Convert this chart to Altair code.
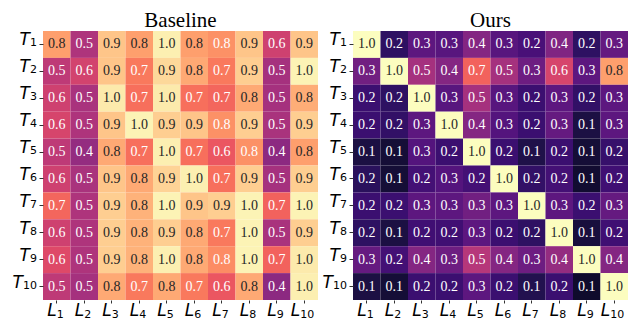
import altair as alt
import pandas as pd

rows = ["T1", "T2", "T3", "T4", "T5", "T6", "T7", "T8", "T9", "T10"]
cols = ["L1", "L2", "L3", "L4", "L5", "L6", "L7", "L8", "L9", "L10"]

baseline = [
    [0.80, 0.48, 0.88, 0.80, 0.97, 0.80, 0.77, 0.88, 0.56, 0.88],
    [0.52, 0.57, 0.88, 0.72, 0.92, 0.82, 0.72, 0.90, 0.46, 0.98],
    [0.56, 0.47, 0.96, 0.70, 0.96, 0.70, 0.68, 0.82, 0.46, 0.83],
    [0.58, 0.48, 0.88, 0.98, 0.90, 0.88, 0.77, 0.90, 0.47, 0.90],
    [0.52, 0.42, 0.82, 0.70, 0.97, 0.70, 0.64, 0.77, 0.40, 0.80],
    [0.56, 0.47, 0.88, 0.82, 0.91, 0.97, 0.70, 0.90, 0.46, 0.90],
    [0.68, 0.48, 0.90, 0.84, 0.98, 0.88, 0.90, 0.98, 0.67, 0.98],
    [0.56, 0.48, 0.90, 0.84, 0.90, 0.82, 0.72, 0.98, 0.47, 0.90],
    [0.60, 0.48, 0.90, 0.84, 0.97, 0.82, 0.76, 0.98, 0.67, 0.96],
    [0.52, 0.46, 0.82, 0.72, 0.82, 0.72, 0.64, 0.82, 0.40, 0.97],
]

ours = [
    [1.00, 0.17, 0.28, 0.27, 0.38, 0.27, 0.23, 0.37, 0.17, 0.30],
    [0.33, 1.00, 0.46, 0.38, 0.67, 0.46, 0.32, 0.58, 0.28, 0.80],
    [0.20, 0.17, 1.00, 0.27, 0.46, 0.27, 0.20, 0.28, 0.18, 0.28],
    [0.20, 0.18, 0.28, 1.00, 0.38, 0.26, 0.20, 0.30, 0.12, 0.28],
    [0.12, 0.10, 0.26, 0.20, 1.00, 0.20, 0.13, 0.20, 0.10, 0.19],
    [0.16, 0.10, 0.22, 0.26, 0.22, 1.00, 0.18, 0.22, 0.09, 0.21],
    [0.20, 0.20, 0.28, 0.28, 0.33, 0.28, 1.00, 0.28, 0.20, 0.30],
    [0.17, 0.12, 0.21, 0.21, 0.28, 0.20, 0.17, 1.00, 0.11, 0.21],
    [0.30, 0.22, 0.38, 0.32, 0.50, 0.38, 0.32, 0.42, 1.00, 0.38],
    [0.12, 0.10, 0.20, 0.20, 0.28, 0.20, 0.14, 0.20, 0.08, 1.00],
]

W = 275
H = 269
LAB_FONT = "DejaVu Sans"


def to_df(mat):
    recs = []
    for i, r in enumerate(rows):
        for j, c in enumerate(cols):
            recs.append({"row": r, "col": c, "value": mat[i][j]})
    return pd.DataFrame(recs)


ylab = pd.DataFrame({"row": rows, "letter": [r[0] for r in rows],
                     "sub": [r[1:] for r in rows], "nd": [len(r) - 1 for r in rows]})
xlab = pd.DataFrame({"col": cols, "letter": [c[0] for c in cols],
                     "sub": [c[1:] for c in cols], "nd": [len(c) - 1 for c in cols]})

X = alt.X("col:O", sort=cols, title=None,
          axis=alt.Axis(labels=False, domain=False, ticks=True, tickSize=3,
                        tickColor="#333"))
Y = alt.Y("row:O", sort=rows, title=None,
          axis=alt.Axis(labels=False, domain=False, ticks=True, tickSize=4,
                        tickColor="#333", minExtent=35, maxExtent=35))


def ylabels():
    layers = []
    for nd in (1, 2):
        base = alt.Chart(ylab).transform_filter(alt.datum.nd == nd)
        layers.append(base.mark_text(align="right", baseline="alphabetic", font=LAB_FONT,
                                     fontStyle="italic", fontSize=17, color="black",
                                     dy=1).encode(
            y=Y, x=alt.value(-6 - 7 * nd), text="letter:N"))
        layers.append(base.mark_text(align="right", baseline="alphabetic", font=LAB_FONT,
                                     fontSize=11, color="black", dy=2).encode(
            y=Y, x=alt.value(-6), text="sub:N"))
    return layers


def xlabels():
    layers = []
    for nd, dx in ((1, 0), (2, -4)):
        base = alt.Chart(xlab).transform_filter(alt.datum.nd == nd)
        layers.append(base.mark_text(align="right", baseline="alphabetic", font=LAB_FONT,
                                     fontStyle="italic", fontSize=17, color="black",
                                     dx=dx).encode(
            x=X, y=alt.value(H + 16), text="letter:N"))
        layers.append(base.mark_text(align="left", baseline="alphabetic", font=LAB_FONT,
                                     fontSize=11, color="black", dx=dx).encode(
            x=X, y=alt.value(H + 18), text="sub:N"))
    return layers


def panel(mat, title):
    df = to_df(mat)
    base = alt.Chart(df).encode(x=X, y=Y)
    rect = base.mark_rect(stroke=None).encode(
        color=alt.Color("value:Q", scale=alt.Scale(scheme="magma", domain=[0, 1]),
                        legend=None)
    )
    text = base.mark_text(font="Liberation Serif", fontSize=14).encode(
        text=alt.Text("value:Q", format=".1f"),
        color=alt.condition(alt.datum.value >= 0.775, alt.value("#262626"),
                            alt.value("white")),
    )
    return alt.layer(rect, text, *ylabels(), *xlabels()).properties(
        width=W, height=H,
        title=alt.TitleParams(title, font="Liberation Serif", fontSize=21,
                              fontWeight="normal", color="black", offset=0,
                              anchor="middle"),
    )


chart = alt.hconcat(panel(baseline, "Baseline"), panel(ours, "Ours"), spacing=0).properties(
    padding={"left": 0, "top": 2, "right": 0, "bottom": 0}
).configure_view(stroke=None).resolve_scale(color="independent")

chart.save("out.html", embed_options={"renderer": "svg", "actions": False})
